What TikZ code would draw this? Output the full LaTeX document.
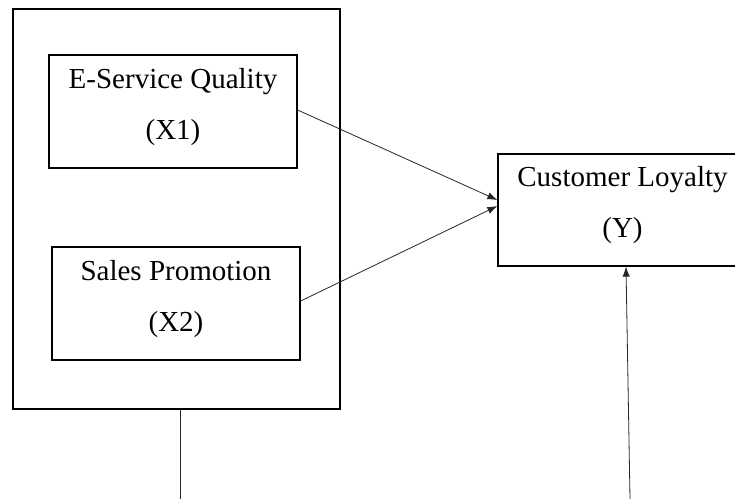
\documentclass[tikz,border=0pt]{standalone}
\usepackage{fontspec}
\setmainfont{Liberation Serif}
\usetikzlibrary{arrows.meta}
\begin{document}
\begin{tikzpicture}[x=1pt,y=-1pt,
  box/.style={draw=black, line width=1.3pt, rectangle, inner sep=0pt},
  lbl/.style={align=center, inner sep=0pt, yshift=4.7pt,
    font=\fontsize{29}{51}\selectfont},
  conn/.style={draw=black!85, line width=0.8pt},
  arr/.style={conn, -{Latex[length=10pt,width=7.5pt]}}]
\useasboundingbox (0,0) rectangle (735,499);
\node[box, minimum width=327pt, minimum height=400pt] (outer) at (176.5,209) {};
\node[box, minimum width=248pt, minimum height=113pt,
  label={[lbl]center:E-Service Quality\\(X1)}] (x1) at (173,111.5) {};
\node[box, minimum width=248pt, minimum height=113pt,
  label={[lbl]center:Sales Promotion\\(X2)}] (x2) at (176,303.5) {};
\node[box, minimum width=249pt, minimum height=112pt,
  label={[lbl]center:Customer Loyalty\\(Y)}] (cl) at (622.5,210) {};
\coordinate (b1) at (180,499);
\coordinate (b2) at (630,499);
\coordinate (t2) at (626,0);
\coordinate (s1) at (0,110);
\coordinate (s2) at (0,301);
\coordinate (e1) at (0,200);
\coordinate (e2) at (0,206);
\draw[arr] (x1.east |- s1) -- (cl.west |- e1);
\draw[arr] (x2.east |- s2) -- (cl.west |- e2);
\draw[conn] (outer.south -| b1) -- (b1);
\draw[arr] (b2) -- (t2 |- cl.south);
\end{tikzpicture}
\end{document}
